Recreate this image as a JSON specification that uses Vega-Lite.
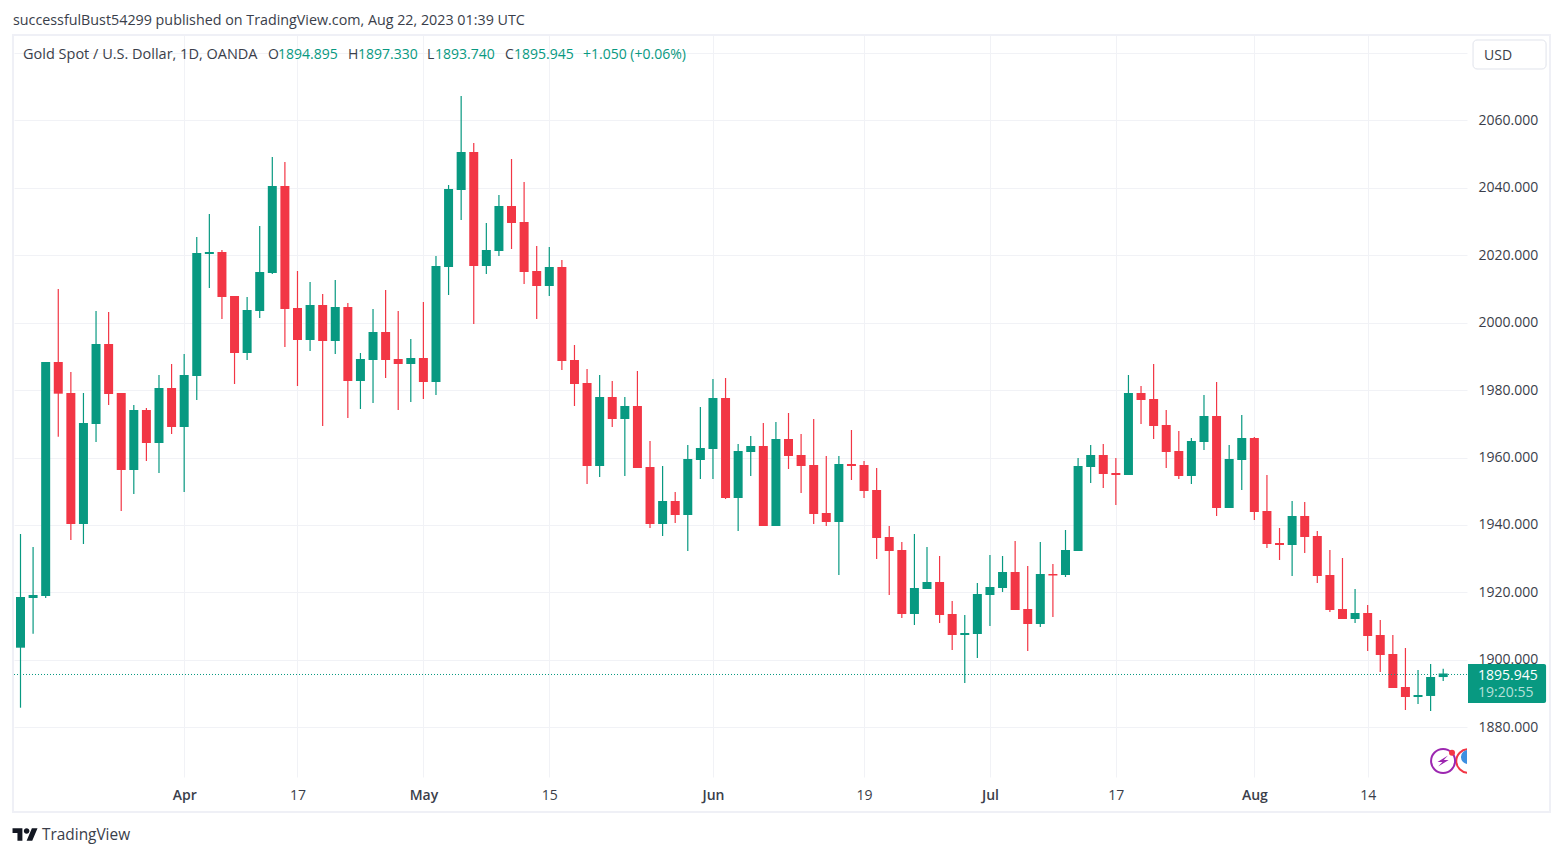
{
  "$schema": "https://vega.github.io/schema/vega-lite/v6.json",
  "width": 1453,
  "height": 742,
  "autosize": {"type": "none"},
  "padding": {"left": 14, "top": 35, "right": 96, "bottom": 80},
  "background": "white",
  "title": {
    "text": "successfulBust54299 published on TradingView.com, Aug 22, 2023 01:39 UTC",
    "anchor": "start",
    "frame": "group",
    "dx": -1,
    "offset": 6,
    "font": "Open Sans",
    "fontSize": 14.3,
    "fontWeight": "normal",
    "color": "#3a3e4a"
  },
  "config": {
    "view": {"stroke": null},
    "font": "Open Sans",
    "text": {"font": "Open Sans"}
  },
  "datasets": {
    "candles": [
      {"bar":0,"date":"2023-03-15","open":1903.6,"high":1937.32,"low":1885.8,"close":1918.63},
      {"bar":1,"date":"2023-03-16","open":1918.34,"high":1933.46,"low":1907.75,"close":1919.23},
      {"bar":2,"date":"2023-03-17","open":1918.93,"high":1988.33,"low":1918.34,"close":1988.33},
      {"bar":3,"date":"2023-03-20","open":1988.33,"high":2009.97,"low":1966.17,"close":1978.93},
      {"bar":4,"date":"2023-03-21","open":1979.13,"high":1985.36,"low":1935.54,"close":1940.28},
      {"bar":5,"date":"2023-03-22","open":1940.28,"high":1979.13,"low":1934.35,"close":1970.24},
      {"bar":6,"date":"2023-03-23","open":1969.94,"high":2003.45,"low":1964.6,"close":1993.66},
      {"bar":7,"date":"2023-03-24","open":1993.66,"high":2003.15,"low":1975.57,"close":1978.84},
      {"bar":8,"date":"2023-03-27","open":1979.13,"high":1979.13,"low":1944.14,"close":1956.3},
      {"bar":9,"date":"2023-03-28","open":1956.3,"high":1975.57,"low":1949.18,"close":1974.09},
      {"bar":10,"date":"2023-03-29","open":1974.09,"high":1974.68,"low":1958.97,"close":1964.3},
      {"bar":11,"date":"2023-03-30","open":1964.3,"high":1984.47,"low":1955.41,"close":1980.61},
      {"bar":12,"date":"2023-03-31","open":1980.61,"high":1987.73,"low":1966.97,"close":1969.05},
      {"bar":13,"date":"2023-04-03","open":1969.05,"high":1990.7,"low":1949.77,"close":1984.47},
      {"bar":14,"date":"2023-04-04","open":1984.17,"high":2025.4,"low":1977.06,"close":2020.65},
      {"bar":15,"date":"2023-04-05","open":2020.35,"high":2032.22,"low":2010.27,"close":2020.95},
      {"bar":16,"date":"2023-04-06","open":2020.95,"high":2021.54,"low":2001.08,"close":2007.6},
      {"bar":17,"date":"2023-04-10","open":2007.9,"high":2007.9,"low":1981.8,"close":1990.99},
      {"bar":18,"date":"2023-04-11","open":1990.99,"high":2007.6,"low":1988.92,"close":2003.75},
      {"bar":19,"date":"2023-04-12","open":2003.45,"high":2028.66,"low":2001.37,"close":2015.02},
      {"bar":20,"date":"2023-04-13","open":2014.72,"high":2049.12,"low":2014.42,"close":2040.52},
      {"bar":21,"date":"2023-04-14","open":2040.52,"high":2047.64,"low":1992.77,"close":2004.04},
      {"bar":22,"date":"2023-04-17","open":2004.34,"high":2015.31,"low":1981.21,"close":1994.85},
      {"bar":23,"date":"2023-04-18","open":1994.85,"high":2012.05,"low":1991.59,"close":2005.23},
      {"bar":24,"date":"2023-04-19","open":2005.23,"high":2008.49,"low":1969.35,"close":1994.55},
      {"bar":25,"date":"2023-04-20","open":1994.55,"high":2012.64,"low":1990.7,"close":2004.64},
      {"bar":26,"date":"2023-04-21","open":2004.64,"high":2005.82,"low":1971.72,"close":1982.69},
      {"bar":27,"date":"2023-04-24","open":1982.69,"high":1990.99,"low":1974.39,"close":1989.22},
      {"bar":28,"date":"2023-04-25","open":1988.92,"high":2004.04,"low":1976.17,"close":1997.22},
      {"bar":29,"date":"2023-04-26","open":1997.22,"high":2009.68,"low":1983.58,"close":1988.92},
      {"bar":30,"date":"2023-04-27","open":1989.22,"high":2003.45,"low":1974.09,"close":1987.73},
      {"bar":31,"date":"2023-04-28","open":1987.73,"high":1995.15,"low":1976.46,"close":1989.51},
      {"bar":32,"date":"2023-05-01","open":1989.51,"high":2006.12,"low":1977.35,"close":1982.39},
      {"bar":33,"date":"2023-05-02","open":1982.39,"high":2019.76,"low":1978.54,"close":2016.8},
      {"bar":34,"date":"2023-05-03","open":2016.5,"high":2040.82,"low":2008.19,"close":2039.63},
      {"bar":35,"date":"2023-05-04","open":2039.33,"high":2067.21,"low":2030.44,"close":2050.6},
      {"bar":36,"date":"2023-05-05","open":2050.6,"high":2053.27,"low":1999.59,"close":2016.8},
      {"bar":37,"date":"2023-05-08","open":2016.8,"high":2029.55,"low":2014.42,"close":2021.54},
      {"bar":38,"date":"2023-05-09","open":2021.24,"high":2037.85,"low":2019.76,"close":2034.59},
      {"bar":39,"date":"2023-05-10","open":2034.59,"high":2048.53,"low":2021.84,"close":2029.55},
      {"bar":40,"date":"2023-05-11","open":2029.84,"high":2041.71,"low":2011.46,"close":2015.02},
      {"bar":41,"date":"2023-05-12","open":2015.31,"high":2022.73,"low":2001.08,"close":2010.86},
      {"bar":42,"date":"2023-05-15","open":2010.86,"high":2022.43,"low":2007.9,"close":2016.5},
      {"bar":43,"date":"2023-05-16","open":2016.5,"high":2018.57,"low":1985.95,"close":1988.62},
      {"bar":44,"date":"2023-05-17","open":1988.92,"high":1993.37,"low":1975.28,"close":1981.8},
      {"bar":45,"date":"2023-05-18","open":1982.1,"high":1986.25,"low":1952.14,"close":1957.48},
      {"bar":46,"date":"2023-05-19","open":1957.48,"high":1984.47,"low":1954.22,"close":1977.95},
      {"bar":47,"date":"2023-05-22","open":1977.95,"high":1982.69,"low":1969.05,"close":1971.42},
      {"bar":48,"date":"2023-05-23","open":1971.42,"high":1977.95,"low":1954.52,"close":1975.28},
      {"bar":49,"date":"2023-05-24","open":1975.28,"high":1985.66,"low":1956.89,"close":1956.89},
      {"bar":50,"date":"2023-05-25","open":1957.19,"high":1964.9,"low":1939.1,"close":1940.28},
      {"bar":51,"date":"2023-05-26","open":1940.28,"high":1957.48,"low":1936.72,"close":1947.1},
      {"bar":52,"date":"2023-05-29","open":1947.1,"high":1949.77,"low":1940.58,"close":1942.95},
      {"bar":53,"date":"2023-05-30","open":1942.95,"high":1963.71,"low":1932.28,"close":1959.56},
      {"bar":54,"date":"2023-05-31","open":1959.26,"high":1974.98,"low":1953.63,"close":1962.82},
      {"bar":55,"date":"2023-06-01","open":1962.52,"high":1983.28,"low":1953.63,"close":1977.65},
      {"bar":56,"date":"2023-06-02","open":1977.65,"high":1983.58,"low":1947.7,"close":1947.99},
      {"bar":57,"date":"2023-06-05","open":1947.99,"high":1964.01,"low":1938.21,"close":1961.93},
      {"bar":58,"date":"2023-06-06","open":1961.63,"high":1966.38,"low":1954.52,"close":1963.41},
      {"bar":59,"date":"2023-06-07","open":1963.41,"high":1970.24,"low":1939.69,"close":1939.69},
      {"bar":60,"date":"2023-06-08","open":1939.69,"high":1970.53,"low":1939.69,"close":1965.49},
      {"bar":61,"date":"2023-06-09","open":1965.49,"high":1973.2,"low":1956.59,"close":1960.45},
      {"bar":62,"date":"2023-06-12","open":1960.75,"high":1966.97,"low":1949.48,"close":1957.48},
      {"bar":63,"date":"2023-06-13","open":1957.78,"high":1971.42,"low":1940.28,"close":1943.25},
      {"bar":64,"date":"2023-06-14","open":1943.54,"high":1960.45,"low":1939.69,"close":1940.88},
      {"bar":65,"date":"2023-06-15","open":1940.88,"high":1960.45,"low":1925.16,"close":1958.08},
      {"bar":66,"date":"2023-06-16","open":1958.08,"high":1968.16,"low":1953.33,"close":1957.48},
      {"bar":67,"date":"2023-06-19","open":1957.78,"high":1958.97,"low":1947.99,"close":1950.07},
      {"bar":68,"date":"2023-06-20","open":1950.37,"high":1956.89,"low":1929.9,"close":1936.13},
      {"bar":69,"date":"2023-06-21","open":1936.43,"high":1939.69,"low":1919.23,"close":1932.28},
      {"bar":70,"date":"2023-06-22","open":1932.57,"high":1934.94,"low":1912.41,"close":1913.59},
      {"bar":71,"date":"2023-06-23","open":1913.59,"high":1937.32,"low":1910.33,"close":1921.3},
      {"bar":72,"date":"2023-06-26","open":1921.01,"high":1933.46,"low":1921.01,"close":1923.08},
      {"bar":73,"date":"2023-06-27","open":1923.08,"high":1930.79,"low":1910.92,"close":1913.3},
      {"bar":74,"date":"2023-06-28","open":1913.59,"high":1917.45,"low":1902.92,"close":1907.36},
      {"bar":75,"date":"2023-06-29","open":1907.36,"high":1913.3,"low":1893.13,"close":1907.96},
      {"bar":76,"date":"2023-06-30","open":1907.66,"high":1922.79,"low":1900.54,"close":1919.52},
      {"bar":77,"date":"2023-07-03","open":1919.23,"high":1931.09,"low":1910.03,"close":1921.6},
      {"bar":78,"date":"2023-07-04","open":1921.3,"high":1930.79,"low":1920.12,"close":1926.05},
      {"bar":79,"date":"2023-07-05","open":1926.05,"high":1935.24,"low":1914.78,"close":1914.78},
      {"bar":80,"date":"2023-07-06","open":1915.07,"high":1927.83,"low":1902.62,"close":1910.63},
      {"bar":81,"date":"2023-07-07","open":1910.63,"high":1934.94,"low":1909.74,"close":1925.45},
      {"bar":82,"date":"2023-07-10","open":1925.45,"high":1928.42,"low":1912.7,"close":1925.01},
      {"bar":83,"date":"2023-07-11","open":1925.16,"high":1938.5,"low":1924.56,"close":1932.57},
      {"bar":84,"date":"2023-07-12","open":1932.28,"high":1959.86,"low":1932.28,"close":1957.48},
      {"bar":85,"date":"2023-07-13","open":1957.19,"high":1963.71,"low":1952.44,"close":1960.75},
      {"bar":86,"date":"2023-07-14","open":1960.75,"high":1964.01,"low":1950.96,"close":1955.11},
      {"bar":87,"date":"2023-07-17","open":1955.41,"high":1959.86,"low":1945.92,"close":1954.81},
      {"bar":88,"date":"2023-07-18","open":1954.81,"high":1984.47,"low":1954.81,"close":1979.13},
      {"bar":89,"date":"2023-07-19","open":1979.13,"high":1981.21,"low":1969.94,"close":1977.06},
      {"bar":90,"date":"2023-07-20","open":1977.35,"high":1987.73,"low":1965.49,"close":1969.35},
      {"bar":91,"date":"2023-07-21","open":1969.64,"high":1974.09,"low":1956.89,"close":1961.63},
      {"bar":92,"date":"2023-07-24","open":1961.93,"high":1967.86,"low":1953.63,"close":1954.52},
      {"bar":93,"date":"2023-07-25","open":1954.52,"high":1965.79,"low":1952.14,"close":1964.9},
      {"bar":94,"date":"2023-07-26","open":1964.6,"high":1978.54,"low":1962.23,"close":1972.31},
      {"bar":95,"date":"2023-07-27","open":1972.31,"high":1982.39,"low":1942.66,"close":1945.03},
      {"bar":96,"date":"2023-07-28","open":1945.03,"high":1963.71,"low":1945.03,"close":1959.56},
      {"bar":97,"date":"2023-07-31","open":1959.26,"high":1972.61,"low":1950.37,"close":1965.79},
      {"bar":98,"date":"2023-08-01","open":1965.79,"high":1966.08,"low":1941.47,"close":1943.84},
      {"bar":99,"date":"2023-08-02","open":1944.14,"high":1954.81,"low":1933.17,"close":1934.35},
      {"bar":100,"date":"2023-08-03","open":1934.65,"high":1939.1,"low":1929.61,"close":1934.05},
      {"bar":101,"date":"2023-08-04","open":1934.05,"high":1947.1,"low":1924.86,"close":1942.66},
      {"bar":102,"date":"2023-08-07","open":1942.66,"high":1946.81,"low":1931.68,"close":1936.43},
      {"bar":103,"date":"2023-08-08","open":1936.72,"high":1938.21,"low":1922.79,"close":1924.86},
      {"bar":104,"date":"2023-08-09","open":1925.16,"high":1932.57,"low":1914.19,"close":1914.78},
      {"bar":105,"date":"2023-08-10","open":1915.07,"high":1930.2,"low":1912.11,"close":1912.11},
      {"bar":106,"date":"2023-08-11","open":1912.11,"high":1921.01,"low":1910.92,"close":1913.89},
      {"bar":107,"date":"2023-08-14","open":1913.89,"high":1916.26,"low":1902.62,"close":1907.07},
      {"bar":108,"date":"2023-08-15","open":1907.36,"high":1911.81,"low":1896.39,"close":1901.43},
      {"bar":109,"date":"2023-08-16","open":1901.73,"high":1907.36,"low":1891.65,"close":1891.65},
      {"bar":110,"date":"2023-08-17","open":1891.94,"high":1903.51,"low":1885.12,"close":1888.98},
      {"bar":111,"date":"2023-08-18","open":1888.98,"high":1896.98,"low":1886.9,"close":1889.57},
      {"bar":112,"date":"2023-08-21","open":1889.28,"high":1898.76,"low":1884.83,"close":1894.91},
      {"bar":113,"date":"2023-08-22","open":1894.895,"high":1897.33,"low":1893.74,"close":1895.945}
    ],
    "texts": [
      {"bar":19.66,"price":2079.4,"text":"O","kind":"dark"},
      {"bar":20.45,"price":2079.4,"text":"1894.895","kind":"green"},
      {"bar":26.01,"price":2079.4,"text":"H","kind":"dark"},
      {"bar":26.81,"price":2079.4,"text":"1897.330","kind":"green"},
      {"bar":32.29,"price":2079.4,"text":"L","kind":"dark"},
      {"bar":32.92,"price":2079.4,"text":"1893.740","kind":"green"},
      {"bar":38.48,"price":2079.4,"text":"C","kind":"dark"},
      {"bar":39.2,"price":2079.4,"text":"1895.945","kind":"green"},
      {"bar":44.68,"price":2079.4,"text":"+1.050 (+0.06%)","kind":"green"},
      {"bar":116.24,"price":2079.1,"text":"USD","kind":"dark"},
      {"bar":115.77,"price":1895.3,"text":"1895.945","kind":"tag"},
      {"bar":115.77,"price":1890.2,"text":"19:20:55","kind":"tagsoft"}
    ]
  },
  "data": {"name": "candles"},
  "encoding": {
    "x": {
      "field": "bar",
      "type": "quantitative",
      "title": null,
      "scale": {"domain": [-0.516, 114.89], "nice": false, "zero": false, "padding": 0},
      "axis": {
        "title": null,
        "values": [13, 22, 32, 42, 55, 67, 77, 87, 98, 107],
        "labelExpr": "{'13':'Apr','22':'17','32':'May','42':'15','55':'Jun','67':'19','77':'Jul','87':'17','98':'Aug','107':'14'}[datum.value]",
        "labelFontWeight": {"condition": {"test": "indexof([13,32,55,77,98], datum.value) >= 0", "value": 600}, "value": 400},
        "labelColor": "#3a3e4a",
        "labelFont": "Open Sans",
        "labelFontSize": 14,
        "labelPadding": 11,
        "domain": false,
        "ticks": false,
        "grid": true,
        "gridColor": "#f1f2f6",
        "gridWidth": 1,
        "labelFlush": false,
        "labelOverlap": false
      }
    },
    "y": {
      "field": "price",
      "type": "quantitative",
      "title": null,
      "scale": {"domain": [1865.25, 2085.3], "nice": false, "zero": false, "padding": 0},
      "axis": {
        "title": null,
        "orient": "right",
        "values": [1880, 1900, 1920, 1940, 1960, 1980, 2000, 2020, 2040, 2060, 2080],
        "labelExpr": "datum.value == 2080 ? '' : format(datum.value, '.3f')",
        "labelColor": "#3a3e4a",
        "labelFont": "Open Sans",
        "labelFontSize": 14,
        "labelPadding": 11,
        "domain": false,
        "ticks": false,
        "grid": true,
        "gridColor": "#f1f2f6",
        "gridWidth": 1,
        "labelOverlap": false
      }
    }
  },
  "layer": [
    {
      "data": {"values": [{"bar": -0.6, "bar2": 121.48, "price": 2085.3, "price2": 1854.87}]},
      "mark": {"type": "rect", "fill": null, "stroke": "#eff0f6", "strokeWidth": 2},
      "encoding": {"x2": {"field": "bar2"}, "y2": {"field": "price2"}}
    },
    {
      "mark": {"type": "rule", "strokeWidth": 1.2},
      "encoding": {
        "y": {"field": "low", "type": "quantitative", "title": null},
        "y2": {"field": "high"},
        "color": {"condition": {"test": "datum.close >= datum.open", "value": "#089981"}, "value": "#F23645"}
      }
    },
    {
      "mark": {"type": "bar", "size": 9, "orient": "vertical"},
      "encoding": {
        "y": {"field": "open", "type": "quantitative", "title": null},
        "y2": {"field": "close"},
        "color": {"condition": {"test": "datum.close >= datum.open", "value": "#089981"}, "value": "#F23645"}
      }
    },
    {
      "data": {"values": [{"bar": -0.516, "bar2": 114.89, "price": 1895.65}]},
      "mark": {"type": "rule", "color": "#089981", "strokeWidth": 1, "strokeDash": [1, 2]},
      "encoding": {"x2": {"field": "bar2"}}
    },
    {
      "data": {"values": [{"bar": 115.37, "bar2": 121.17, "price": 2083.82, "price2": 2075.22}]},
      "mark": {"type": "rect", "fill": "white", "stroke": "#e0e3eb", "strokeWidth": 1, "cornerRadius": 4},
      "encoding": {"x2": {"field": "bar2"}, "y2": {"field": "price2"}}
    },
    {
      "data": {"values": [{"bar": 114.97, "bar2": 121.17, "price": 1898.76, "price2": 1887.2}]},
      "mark": {"type": "rect", "fill": "#089981", "cornerRadiusTopRight": 2, "cornerRadiusBottomRight": 2},
      "encoding": {"x2": {"field": "bar2"}, "y2": {"field": "price2"}}
    },
    {
      "data": {"name": "texts"},
      "mark": {"type": "text", "align": "left", "baseline": "middle", "fontSize": 14, "font": "Open Sans"},
      "encoding": {
        "text": {"field": "text"},
        "color": {
          "field": "kind",
          "scale": {"domain": ["dark", "green", "tag", "tagsoft"], "range": ["#3a3e4a", "#089981", "#ffffff", "#b5e0d9"]},
          "legend": null
        }
      }
    },
    {
      "data": {"values": [{"bar": 0.2, "price": 2079.4, "text": "Gold Spot / U.S. Dollar, 1D, OANDA"}]},
      "mark": {"type": "text", "align": "left", "baseline": "middle", "fontSize": 14.5, "font": "Open Sans", "color": "#3a3e4a"},
      "encoding": {"text": {"field": "text"}}
    },
    {
      "data": {"values": [{"bar": 1.71, "price": 1848.05, "text": "TradingView"}]},
      "mark": {"type": "text", "align": "left", "baseline": "middle", "fontSize": 15.4, "font": "Open Sans", "color": "#3a3e4a"},
      "encoding": {"text": {"field": "text"}}
    },
    {
      "data": {"values": [{"bar": 0.36, "price": 1848.2}]},
      "mark": {
        "type": "point",
        "filled": true,
        "color": "#131722",
        "opacity": 1,
        "size": 625,
        "shape": "M-1 -0.507 L-0.211 -0.507 L-0.211 0.507 L-0.606 0.507 L-0.606 -0.113 L-1 -0.113 Z M0.127 0.507 L0.549 -0.507 L1 -0.507 L0.577 0.507 Z M-0.098 -0.282 a0.225 0.225 0 1 0 0.45 0 a0.225 0.225 0 1 0 -0.45 0 Z"
      }
    },
    {
      "data": {"values": [{"bar": 114.97, "price": 1870.0}]},
      "mark": {"type": "point", "clip": true, "filled": true, "fill": "white", "stroke": "#f23645", "strokeWidth": 2, "opacity": 1, "size": 550}
    },
    {
      "data": {"values": [{"bar": 114.97, "price": 1871.2}]},
      "mark": {"type": "point", "clip": true, "filled": true, "color": "#3d8fe0", "opacity": 1, "size": 200}
    },
    {
      "data": {"values": [{"bar": 112.99, "price": 1870.0}]},
      "mark": {"type": "point", "filled": true, "fill": "white", "stroke": "#9c27b0", "strokeWidth": 2, "opacity": 1, "size": 576}
    },
    {
      "data": {"values": [{"bar": 112.99, "price": 1870.0}]},
      "mark": {
        "type": "point",
        "filled": true,
        "color": "#9c27b0",
        "opacity": 1,
        "size": 196,
        "shape": "M0.7 -0.8 L-0.8 0.15 L-0.1 0.15 L-0.7 0.8 L0.8 -0.15 L0.1 -0.15 Z"
      }
    },
    {
      "data": {"values": [{"bar": 113.7, "price": 1872.46}]},
      "mark": {"type": "point", "filled": true, "color": "#f23645", "opacity": 1, "size": 36}
    }
  ]
}
